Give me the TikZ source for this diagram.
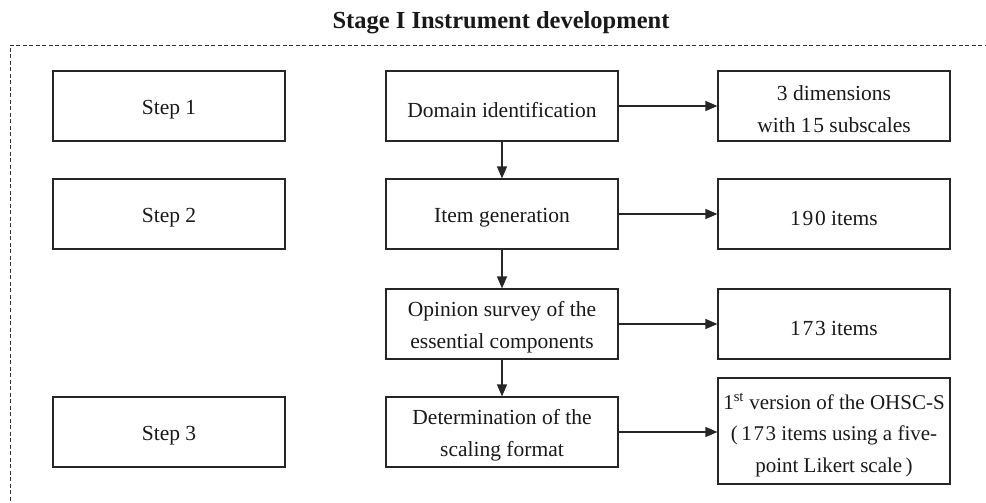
\documentclass[tikz,border=0pt]{standalone}
\usepackage{fontspec}
\setmainfont{Liberation Serif}
\newfontfamily\dgt[LetterSpace=8]{Liberation Serif}
\usetikzlibrary{arrows.meta}
\newcommand{\nm}[1]{{\dgt #1}}
\tikzset{
  box/.style={draw=black!85, line width=1.2pt, minimum width=232pt, minimum height=70pt, inner sep=0pt},
  lbl/.style={align=center, inner sep=0pt, font=\fontsize{21.5}{32}\selectfont, text=black!90},
  conn/.style={line width=1.3pt, draw=black!85, -{Triangle[length=12pt,width=10pt]}},
  frame/.style={draw=black!80, line width=0.9pt, dash pattern=on 4pt off 2.5pt}
}
\begin{document}
\begin{tikzpicture}[x=1pt,y=-1pt]
\useasboundingbox (0,0) rectangle (986,503);
\draw[frame] (995,45) -- (10,45) -- (10,510);
\node[font=\fontsize{24.5}{28}\bfseries, text=black!90, inner sep=0pt] (title) at (501,23) {Stage I Instrument development};

\node[box] (s1) at (169,106) {};
\node[box] (s2) at (169,214) {};
\node[box] (s3) at (169,432) {};

\node[box] (m1) at (502,106) {};
\node[box] (m2) at (502,214) {};
\node[box] (m3) at (502,324) {};
\node[box] (m4) at (502,432) {};

\node[box] (r1) at (834,106) {};
\node[box] (r2) at (834,214) {};
\node[box] (r3) at (834,324) {};
\node[box, minimum height=106pt] (r4) at (834,431) {};

\node[lbl] (ts1) at ([yshift=-4pt]s1.center) {Step 1};
\node[lbl] (ts2) at ([yshift=-4pt]s2.center) {Step 2};
\node[lbl] (ts3) at ([yshift=-4pt]s3.center) {Step 3};
\node[lbl] (tm1) at ([yshift=-4pt]m1.center) {Domain identification};
\node[lbl] (tm2) at ([yshift=-4pt]m2.center) {Item generation};
\node[lbl] (tm3) at ([yshift=-3.5pt]m3.center) {Opinion survey of the\\essential components};
\node[lbl] (tm4) at ([yshift=-3.5pt]m4.center) {Determination of the\\scaling format};
\node[lbl] (tr1) at ([yshift=-3pt]r1.center) {3 dimensions\\with \nm{15} subscales};
\node[lbl] (tr2) at ([yshift=-4pt]r2.center) {\nm{190} items};
\node[lbl] (tr3) at ([yshift=-4pt]r3.center) {\nm{173} items};
\node[lbl, font=\fontsize{21}{31.5}\selectfont] (tr4) at ([yshift=-4pt]r4.center) {1\textsuperscript{st} version of the OHSC-S\\(\,\nm{173} items using a five-\\point Likert scale\,)};

\draw[conn] (m1) -- (r1);
\draw[conn] (m2) -- (r2);
\draw[conn] (m3) -- (r3);
\draw[conn] (m4.east) -- (m4.east -| r4.west);
\draw[conn] (m1) -- (m2);
\draw[conn] (m2) -- (m3);
\draw[conn] (m3) -- (m4);
\end{tikzpicture}
\end{document}
